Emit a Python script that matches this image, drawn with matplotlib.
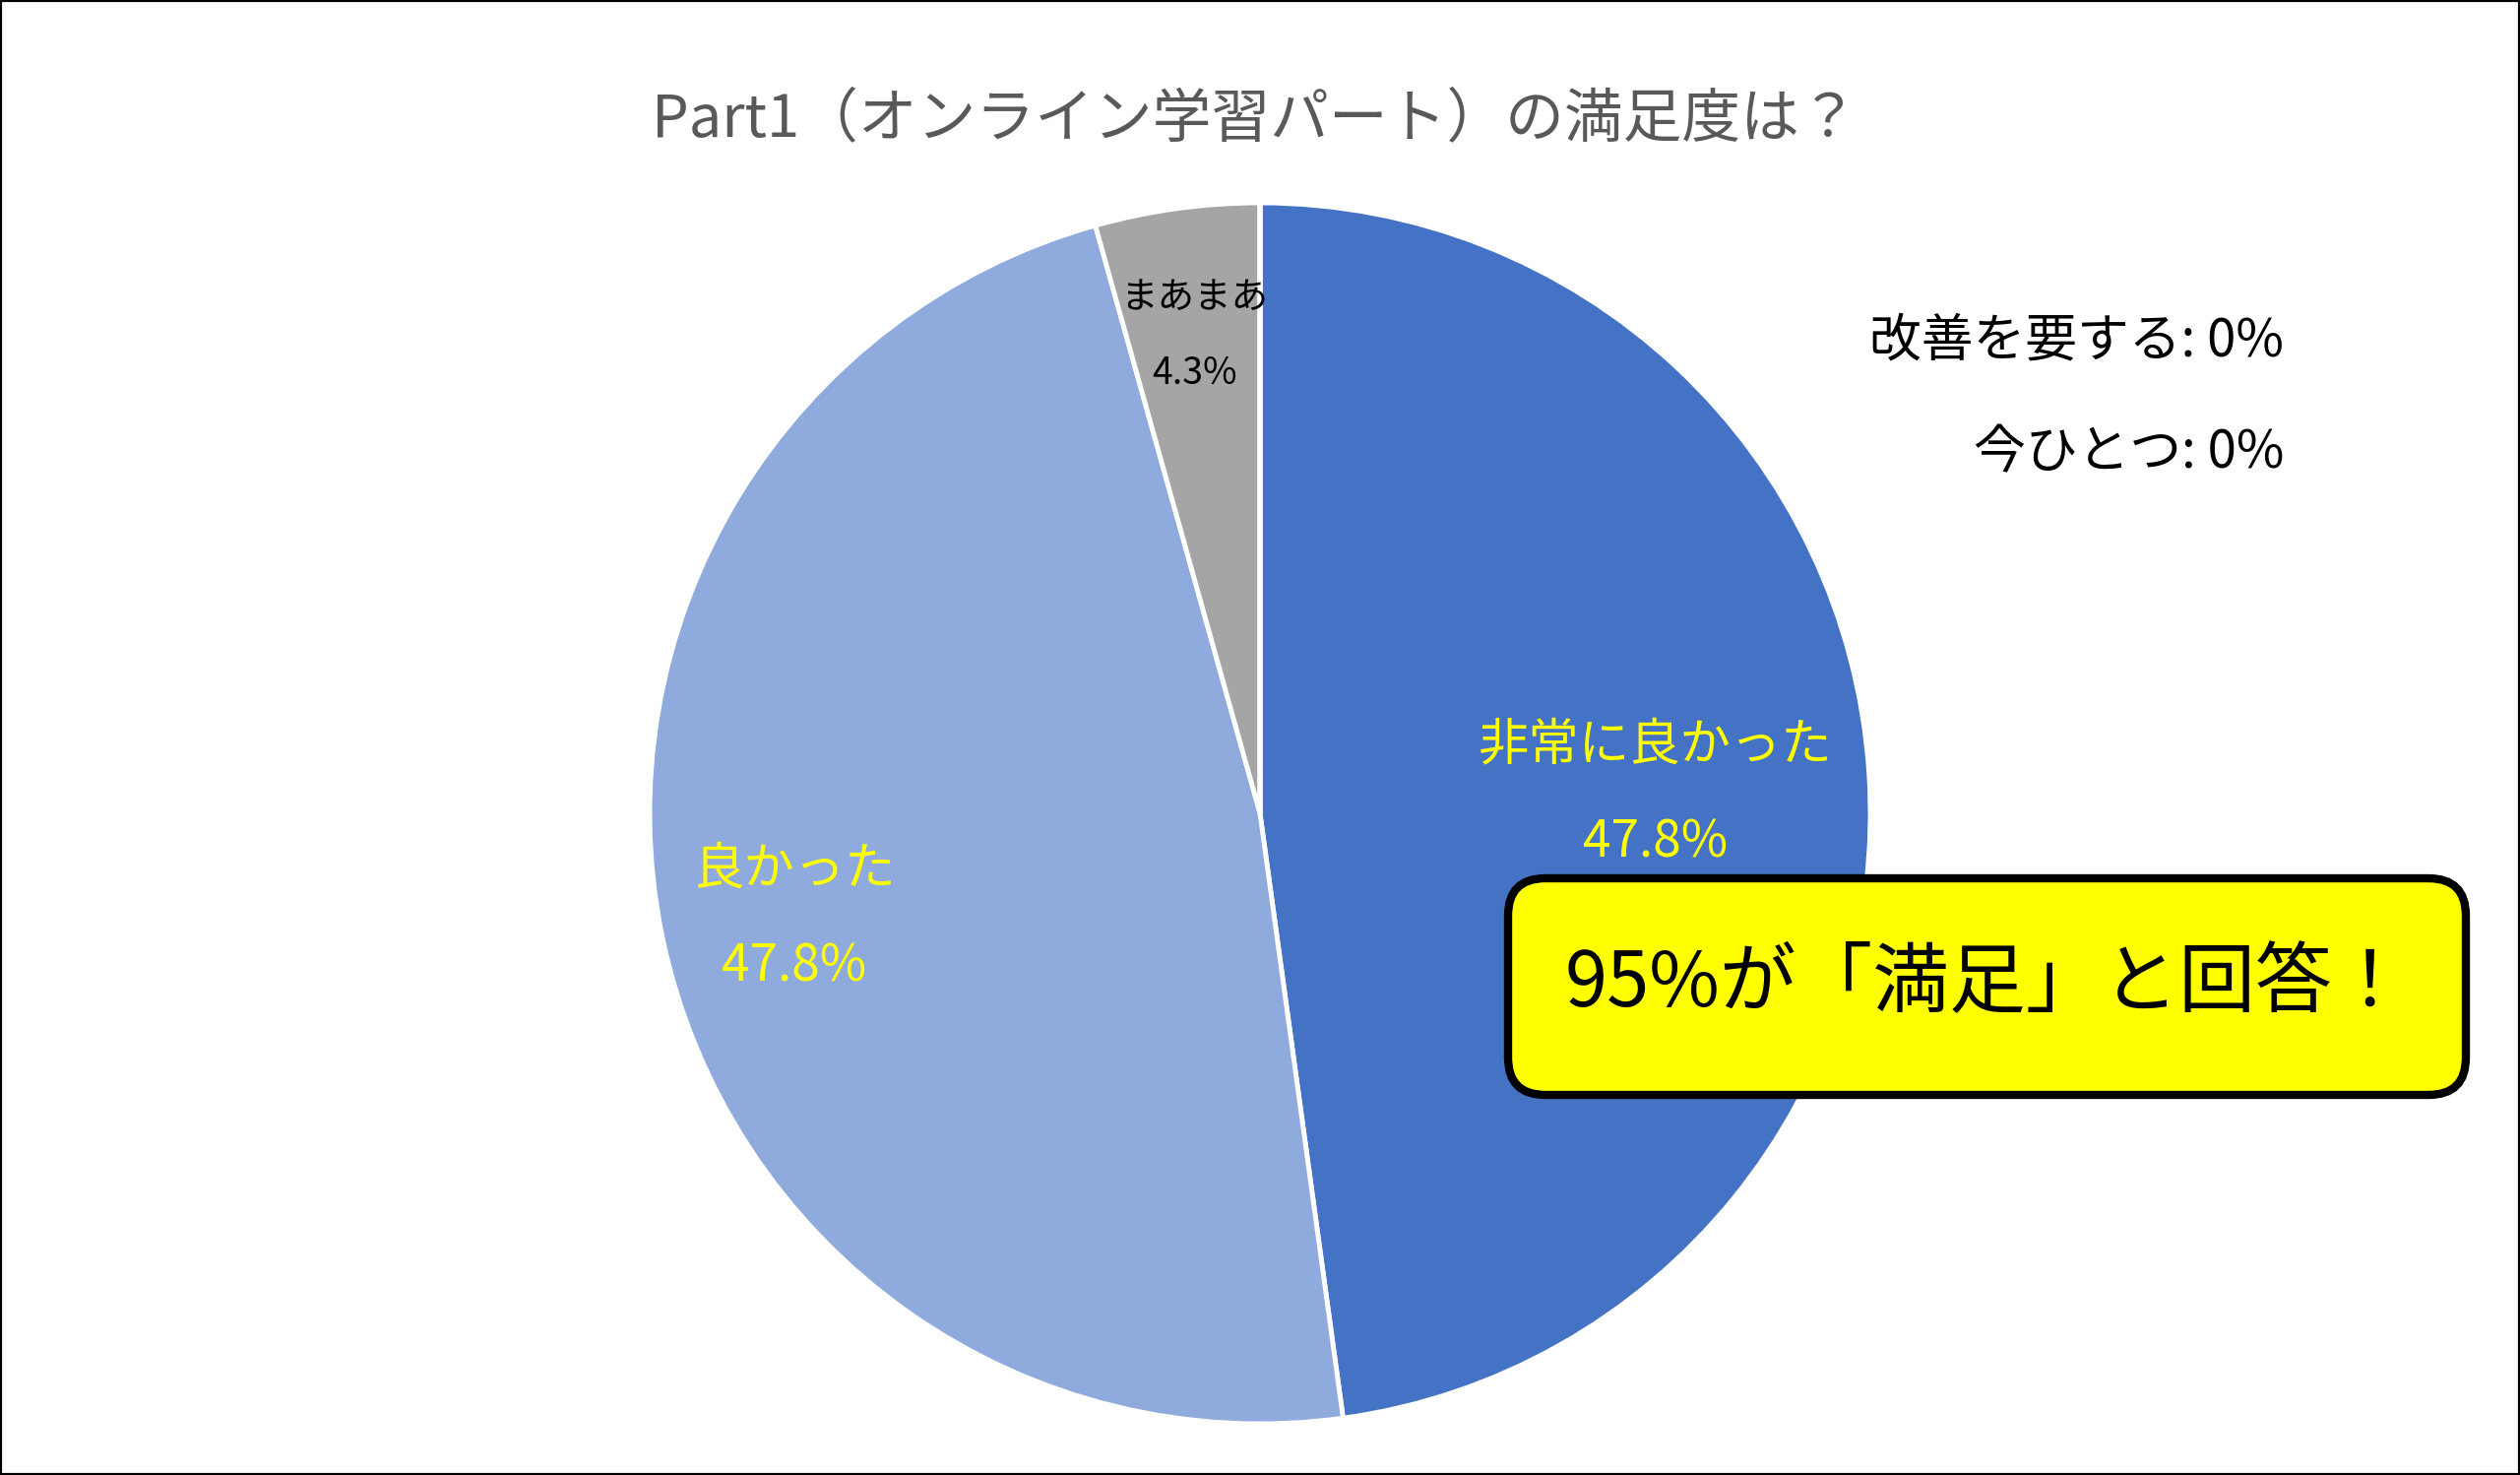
import numpy as np
import matplotlib.pyplot as plt
from matplotlib.patches import FancyBboxPatch, Rectangle

plt.rcParams['font.family'] = ['Noto Sans CJK JP', 'DejaVu Sans']

# data
title = "Part1（オンライン学習パート）の満足度は？"
categories = ["非常に良かった", "良かった", "まあまあ", "今ひとつ", "改善を要する"]
counts = [22, 22, 2, 0, 0]
colors = ["#4472C4", "#8FAADC", "#A5A5A5", "#FFC000", "#5B9BD5"]
callout = "95%が「満足」と回答！"

W, H = 2560, 1498
fig = plt.figure(figsize=(W / 100, H / 100), dpi=100)

# pie axes: centre (1280, 826) px, radius 620 px
cx, cy, r = 1280, 826, 620
ax = fig.add_axes([(cx - r) / W, (H - cy - r) / H, 2 * r / W, 2 * r / H])
wedges, _ = ax.pie(counts, colors=colors, startangle=90, counterclock=False,
                   wedgeprops=dict(edgecolor="white", linewidth=3.5))
ax.set_xlim(-1, 1)
ax.set_ylim(-1, 1)

total = sum(counts)
label_style = {
    0: dict(rad=0.65, dy=-0.013, gap=0.16, color="#FFFF00", size=37),
    1: dict(rad=0.78, dy=-0.013, gap=0.16, color="#FFFF00", size=37),
    2: dict(rad=0.79, dy=0.0, gap=0.124, color="black", size=27),
}
for i, st in label_style.items():
    w = wedges[i]
    mid = np.deg2rad((w.theta1 + w.theta2) / 2)
    x, y = st["rad"] * np.cos(mid), st["rad"] * np.sin(mid) + st["dy"]
    pct = f"{counts[i] / total * 100:.1f}%"
    ax.text(x, y + st["gap"] / 2, categories[i], ha="center", va="center",
            color=st["color"], fontsize=st["size"])
    ax.text(x, y - st["gap"] / 2, pct, ha="center", va="center",
            color=st["color"], fontsize=st["size"])

# overlay in pixel units
ov = fig.add_axes([0, 0, 1, 1])
ov.set_xlim(0, W)
ov.set_ylim(0, H)
ov.axis("off")

ov.text(1275, H - 122, title, ha="center", va="center", fontsize=43, color="#595959")

# zero-value categories listed at the right
for j, i in enumerate([4, 3]):
    ov.text(2320, H - 346 - j * 114, f"{categories[i]}: {counts[i] / total * 100:.0f}%",
            ha="right", va="center", fontsize=38, color="black")

box = FancyBboxPatch((1532, H - 1112), 973, 220,
                     boxstyle="round,pad=0,rounding_size=38",
                     facecolor="#FFFF00", edgecolor="black", linewidth=6)
ov.add_patch(box)
ov.text(2018, H - 1000, callout, ha="center", va="center", fontsize=56,
        style="italic", color="black")

ov.add_patch(Rectangle((0, 0), W, H, fill=False, edgecolor="black",
                       linewidth=3, clip_on=False))

fig.savefig("out.png", dpi=100, facecolor="white")
